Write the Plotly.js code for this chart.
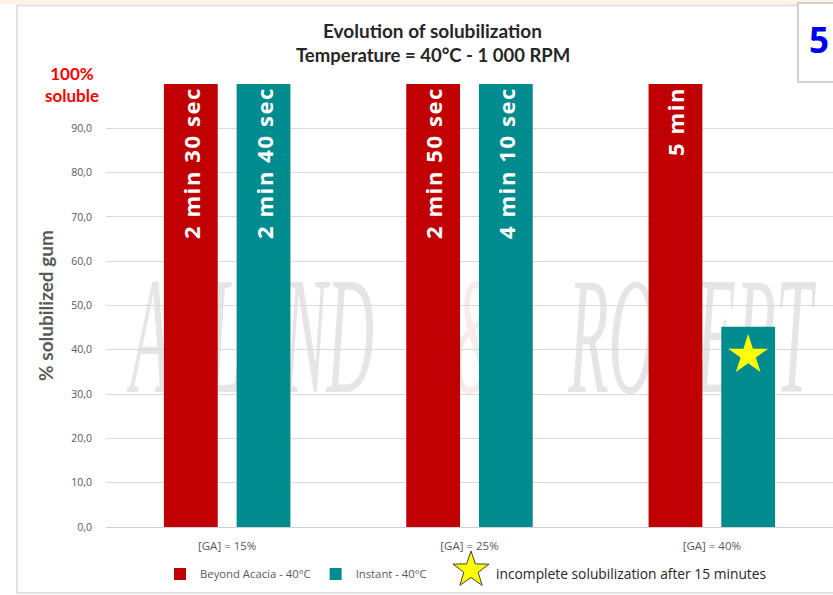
<!DOCTYPE html>
<html>
<head>
<meta charset="utf-8">
<script src="https://cdn.plot.ly/plotly-3.0.1.min.js"></script>
<style>
  html, body { margin: 0; padding: 0; background: #ffffff; }
  #chart { width: 833px; height: 595px; }
  /* tall, narrow watermark lettering */
  .layer-below text { transform-box: fill-box; transform-origin: center; transform: scaleX(0.39); }
  /* slightly spaced labels inside the bars */
  .bartext { letter-spacing: 1.6px; }
</style>
</head>
<body>
<div id="chart"></div>
<script>
// ---- data ----
const categories = ['[GA] = 15%', '[GA] = 25%', '[GA] = 40%'];
const beyondName = 'Beyond Acacia - 40°C';
const instantName = 'Instant - 40°C';
const beyondValues = [100, 100, 100];
const instantValues = [100, 100, 45.2];
const beyondTimes = ['2 min 30 sec', '2 min 50 sec', '5 min'];
const instantTimes = ['2 min 40 sec', '4 min 10 sec', ''];
const incompleteCategory = '[GA] = 40%';
const incompleteValue = 38.8;
const incompleteNote = 'incomplete solubilization after 15 minutes';
const yTicks = [0, 10, 20, 30, 40, 50, 60, 70, 80, 90, 100];

// ---- geometry helpers (page pixels -> paper fractions) ----
const W = 833, H = 595, L = 106, T = 84, R = 0, B = 68;
const PW = W - L - R, PH = H - T - B;
const px = v => (v - L) / PW;
const py = v => (T + PH - v) / PH;

const barGap = 0.4, barGroupGap = 0.26;
const xIdx = categories.map((c, i) => i);
// centre of the second bar in each group
const secondSlot = (1 - barGap) / 4;

const RED = '#c00000', TEAL = '#008b8f', GREY = '#595959';

const barText = {
  family: 'Open Sans', size: 22, color: '#ffffff', weight: 'bold'
};

const traces = [
  {
    type: 'bar', name: beyondName, x: xIdx, y: beyondValues,
    text: beyondTimes, textposition: 'inside', insidetextanchor: 'end',
    textangle: -90, insidetextfont: barText, constraintext: 'none',
    marker: { color: RED, line: { width: 0 } }, hoverinfo: 'skip'
  },
  {
    type: 'bar', name: instantName, x: xIdx, y: instantValues,
    text: instantTimes, textposition: 'inside', insidetextanchor: 'end',
    textangle: -90, insidetextfont: barText, constraintext: 'none',
    marker: { color: TEAL, line: { width: 0 } }, hoverinfo: 'skip'
  },
  {
    type: 'scatter', mode: 'markers', showlegend: false, hoverinfo: 'skip',
    x: [categories.indexOf(incompleteCategory) + secondSlot],
    y: [incompleteValue],
    marker: { symbol: 'star', size: 30, color: '#ffff00', line: { width: 0 } }
  }
];

// star glyph used as the note's key
function starPath(cx, cy, ro, ri) {
  let d = '';
  for (let k = 0; k < 10; k++) {
    const r = k % 2 === 0 ? ro : ri;
    const a = -Math.PI / 2 + k * Math.PI / 5;
    const x = px(cx + r * Math.cos(a));
    const y = py(cy + r * Math.sin(a));
    d += (k === 0 ? 'M' : 'L') + x.toFixed(5) + ',' + y.toFixed(5);
  }
  return d + 'Z';
}

function watermark(text, x0, x1, color) {
  return {
    type: 'rect', xref: 'paper', yref: 'paper', layer: 'below',
    x0: px(x0), x1: px(x1), y0: py(382), y1: py(252),
    line: { width: 0 }, fillcolor: 'rgba(0,0,0,0)',
    label: {
      text: text, textposition: 'middle center',
      font: { family: 'Liberation Serif', size: 168, color: color, style: 'italic' }
    }
  };
}

const shapes = [
  { type: 'rect', xref: 'paper', yref: 'paper', layer: 'below',
    x0: px(0), x1: px(W), y0: py(0), y1: py(4.5),
    fillcolor: '#fcf2e6', line: { width: 0 } },
  { type: 'rect', xref: 'paper', yref: 'paper', layer: 'below',
    x0: px(17), x1: px(850), y0: py(5.5), y1: py(593),
    fillcolor: 'rgba(0,0,0,0)', line: { color: '#d9d9d9', width: 1.5 } },
  watermark('ALLAND', 120, 390, '#e5e5e5'),
  watermark('&', 450, 505, '#fbeaea'),
  watermark('ROBERT', 560, 815, '#e5e5e5'),
  { type: 'rect', xref: 'paper', yref: 'paper', layer: 'above',
    x0: px(798), x1: px(850), y0: py(3), y1: py(82),
    fillcolor: '#ffffff', line: { color: '#c4c4c4', width: 1.5 } },
  { type: 'path', xref: 'paper', yref: 'paper', layer: 'above',
    path: starPath(471, 570, 19, 7.5),
    fillcolor: '#ffff00', line: { color: '#404040', width: 1 } }
];

const annotations = [
  { xref: 'paper', yref: 'paper', x: px(432), y: py(30), xanchor: 'center', yanchor: 'middle',
    text: 'Evolution of solubilization', showarrow: false,
    font: { family: 'Lato', size: 19, color: '#262626', weight: 'bold' } },
  { xref: 'paper', yref: 'paper', x: px(433), y: py(55), xanchor: 'center', yanchor: 'middle',
    text: 'Temperature = 40°C - 1 000 RPM', showarrow: false,
    font: { family: 'Lato', size: 18.5, color: '#262626', weight: 'bold' } },
  { xref: 'paper', yref: 'y', x: px(72), y: 100, xanchor: 'center', yanchor: 'middle',
    text: '100%<br>soluble', showarrow: false,
    font: { family: 'Lato', size: 17, color: '#ff0000', weight: 'bold' } },
  { xref: 'paper', yref: 'paper', x: px(819), y: py(40), xanchor: 'center', yanchor: 'middle',
    text: '5', showarrow: false,
    font: { family: 'Open Sans', size: 35, color: '#0000ee', weight: 'bold' } },
  { xref: 'paper', yref: 'paper', x: px(494), y: py(573), xanchor: 'left', yanchor: 'middle',
    text: incompleteNote, showarrow: false,
    font: { family: 'Open Sans', size: 13.8, color: '#262626' } }
];

const layout = {
  width: W, height: H,
  margin: { l: L, r: R, t: T, b: B, pad: 0 },
  paper_bgcolor: '#ffffff', plot_bgcolor: 'rgba(0,0,0,0)',
  barmode: 'group', bargap: barGap, bargroupgap: barGroupGap,
  showlegend: true,
  legend: {
    orientation: 'h', x: px(160), xanchor: 'left', y: py(574), yanchor: 'middle',
    font: { family: 'Open Sans', size: 11.3, color: GREY },
    itemwidth: 30, bgcolor: 'rgba(0,0,0,0)', traceorder: 'normal'
  },
  xaxis: {
    range: [-0.5, categories.length - 0.5], tickvals: xIdx, ticktext: categories,
    showgrid: false, zeroline: false, showline: false, ticks: '',
    ticklabelstandoff: 10,
    tickfont: { family: 'Open Sans', size: 11.5, color: GREY }, fixedrange: true
  },
  yaxis: {
    range: [0, 100], tickvals: yTicks,
    ticktext: yTicks.map(v => v === 100 ? '' : v.toFixed(1).replace('.', ',')),
    showgrid: true, gridcolor: '#d9d9d9', gridwidth: 1,
    zeroline: true, zerolinecolor: '#d0d0d0', zerolinewidth: 1,
    showline: false, ticks: '', ticklabelstandoff: 13,
    tickfont: { family: 'Open Sans', size: 10.5, color: GREY },
    title: { text: '% solubilized gum', standoff: 12,
             font: { family: 'Lato', size: 19, color: GREY, weight: 'bold' } },
    fixedrange: true
  },
  shapes: shapes,
  annotations: annotations
};

Plotly.newPlot('chart', traces, layout, { displayModeBar: false, staticPlot: true });
</script>
</body>
</html>
